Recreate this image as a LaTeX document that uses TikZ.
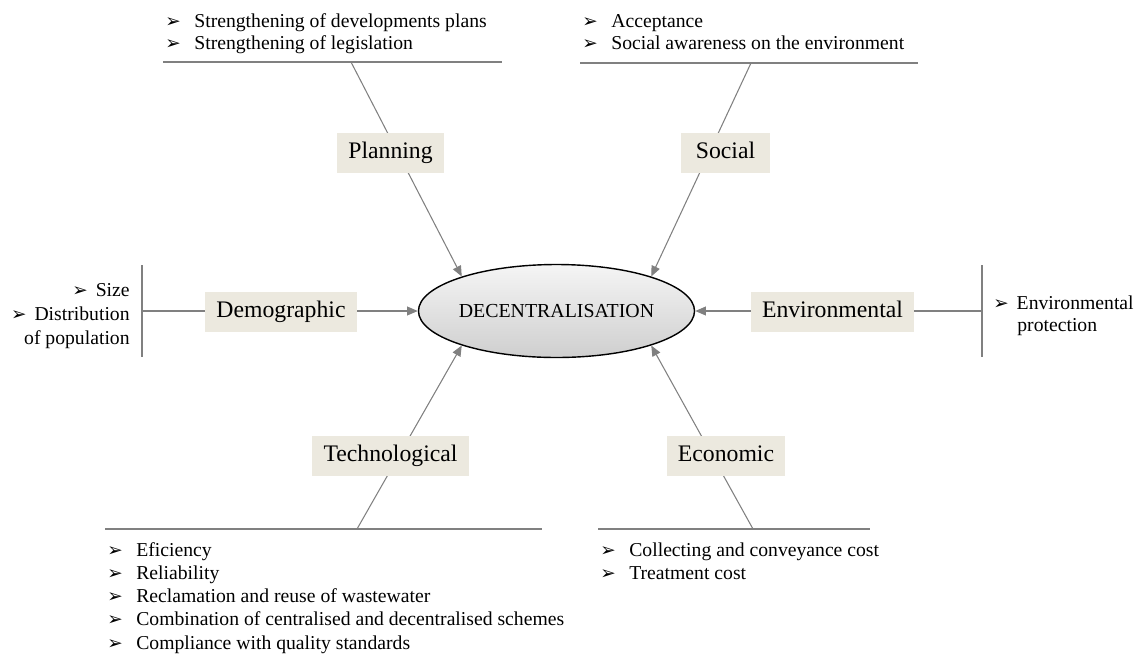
\documentclass[tikz,border=0pt]{standalone}
\usepackage{fontspec}
\setmainfont{Liberation Serif}
\newfontfamily\dejavu{DejaVu Sans}
\usetikzlibrary{arrows.meta,shapes.geometric}
\definecolor{boxfill}{RGB}{236,233,223}
\definecolor{linegray}{RGB}{128,128,128}
\newcommand*{\arrowhd}{{\dejavu\fontsize{10.5}{10.5}\selectfont ➢}}
\newcommand*{\bul}{\makebox[16.5pt][l]{\arrowhd}}
\newcommand*{\bulnear}{\arrowhd\hspace{4.5pt}}
\begin{document}
\begin{tikzpicture}[x=0.02cm,y=-0.02cm]
		\tikzstyle{factor}=[fill=boxfill,inner xsep=6.3pt,inner ysep=0pt,minimum height=22.8pt,text height=9.6pt,text depth=3pt,font=\fontsize{13.5}{16}\selectfont]
		\tikzstyle{item}=[inner sep=0pt,font=\fontsize{11.2}{13}\selectfont]
		\tikzstyle{link}=[draw=linegray,line width=0.6pt,-{Triangle[length=6pt,width=5pt]},color=linegray]
		\tikzstyle{rule}=[draw=linegray,line width=1.2pt]
	\useasboundingbox (0,0) rectangle (1139,653);
	\node[ellipse,draw=black,line width=0.8pt,top color=gray!8,bottom color=gray!38,minimum width=5.06cm,minimum height=1.86cm,inner sep=0pt,font=\fontsize{11.3}{13}\selectfont] (dec) at (556.5,311) {DECENTRALISATION};
	% ends of the connectors
	\coordinate (pl_top) at (351,62);
	\coordinate (so_top) at (751,63);
	\coordinate (de_left) at (142,311);
	\coordinate (en_right) at (982,311);
	\coordinate (te_bot) at (357,529);
	\coordinate (ec_bot) at (753,529);
	\draw[link] (pl_top) -- (dec.160);
	\draw[link] (so_top) -- (dec.20);
	\draw[link] (de_left) -- (dec.west);
	\draw[link] (en_right) -- (dec.east);
	\draw[link] (te_bot) -- (dec.200);
	\draw[link] (ec_bot) -- (dec.-20);
	% rules under and beside the lists
	\draw[rule] (163,62) -- (502,62);
	\draw[rule] (580,63) -- (918,63);
	\draw[rule] (105,529) -- (542,529);
	\draw[rule] (598,529) -- (870,529);
	\draw[rule] (142,265) -- (142,357);
	\draw[rule] (982,265) -- (982,357);
	% factor boxes
	\node[factor] (plan) at (390.5,153) {Planning};
	\node[factor,minimum width=1.78cm] (soc) at (725.5,153) {Social};
	\node[factor] (demo) at (281,312) {Demographic};
	\node[factor] (env) at (832.5,312) {Environmental};
	\node[factor] (tech) at (390.5,456) {Technological};
	\node[factor] (eco) at (726,456) {Economic};
	% lists
	\foreach \t [count=\i] in {Strengthening of developments plans,Strengthening of legislation}
		\node[item,anchor=base west] (pl_\i) at (165,27+22*\i-22) {\bul\t};
	\foreach \t [count=\i] in {Acceptance,Social awareness on the environment}
		\node[item,anchor=base west] (so_\i) at (582,27+22*\i-22) {\bul\t};
	\foreach \t [count=\i] in {Eficiency,Reliability,Reclamation and reuse of wastewater,Combination of centralised and decentralised schemes,Compliance with quality standards}
		\node[item,anchor=base west] (te_\i) at (107,556+23.3*\i-23.3) {\bul\t};
	\foreach \t [count=\i] in {Collecting and conveyance cost,Treatment cost}
		\node[item,anchor=base west] (ec_\i) at (600,556+23*\i-23) {\bul\t};
	\node[item,anchor=base east] (de_1) at (130,296) {\bulnear Size};
	\node[item,anchor=base east] (de_2) at (130,320) {\bulnear Distribution};
	\node[item,anchor=base east] (de_3) at (130,344) {of population};
	\node[item,anchor=base west] (en_1) at (993,309) {\bulnear Environmental};
	\node[item,anchor=base west] (en_2) at (1017,331) {protection};
\end{tikzpicture}
\end{document}
